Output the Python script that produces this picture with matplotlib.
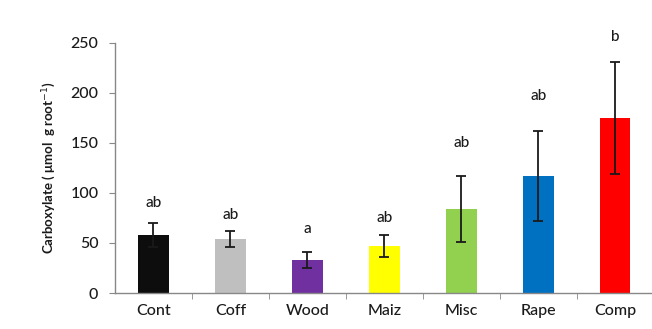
import matplotlib
matplotlib.use("Agg")
import matplotlib.pyplot as plt
import numpy as np

categories = ["Cont", "Coff", "Wood", "Maiz", "Misc", "Rape", "Comp"]
means = [58, 54, 33, 47, 84, 117, 175]
errors = [12, 8, 8, 11, 33, 45, 56]
letters = ["ab", "ab", "a", "ab", "ab", "ab", "b"]
letter_y = [90, 78, 64, 75, 150, 197, 256]
colors = ["#0d0d0d", "#bfbfbf", "#7030a0", "#ffff00", "#92d050", "#0070c0", "#ff0000"]
yticks = [0, 50, 100, 150, 200, 250]

plt.rcParams['font.family'] = ['Lato', 'DejaVu Sans']

fig = plt.figure(figsize=(6.52, 3.29), dpi=100)
ax = fig.add_axes([0.1764, 0.1094, 0.826, 0.76])
x = np.arange(len(categories))
ax.bar(x, means, width=0.4, color=colors, zorder=2)
ax.errorbar(x, means, yerr=errors, fmt='none', ecolor='#1a1a1a', elinewidth=1.3,
            capsize=3.5, capthick=1.3, zorder=3)
for xi, lt, ly in zip(x, letters, letter_y):
    ax.text(xi, ly, lt, ha='center', va='center', fontsize=11, color='#1a1a1a',
            fontweight='medium', clip_on=False)

ax.set_xlim(-0.5, 6.5)
ax.set_ylim(0, 250)
ax.set_yticks(yticks)
ax.set_yticklabels([str(v) for v in yticks], fontsize=11.5, color='#1a1a1a',
                   fontweight='medium')
ax.set_xticks(x)
ax.set_xticklabels(categories, fontsize=11.5, color='#1a1a1a', fontweight='medium')
ax.tick_params(axis='x', length=0, pad=8)
ax.tick_params(axis='y', length=4, color='#888888', pad=8)
ax.set_xticks(np.arange(0.5, 6.5, 1.0), minor=True)
ax.tick_params(axis='x', which='minor', length=4, color='#888888')

for s in ['top', 'right']:
    ax.spines[s].set_visible(False)
for s in ['left', 'bottom']:
    ax.spines[s].set_color('#888888')
    ax.spines[s].set_linewidth(1.0)

ax.set_ylabel("Carboxylate ( \u03bcmol  g root$^{-1}$)", fontsize=9.5, fontweight='bold',
              color='#1a1a1a', labelpad=9)

fig.savefig("out.png", dpi=100, facecolor='white')
